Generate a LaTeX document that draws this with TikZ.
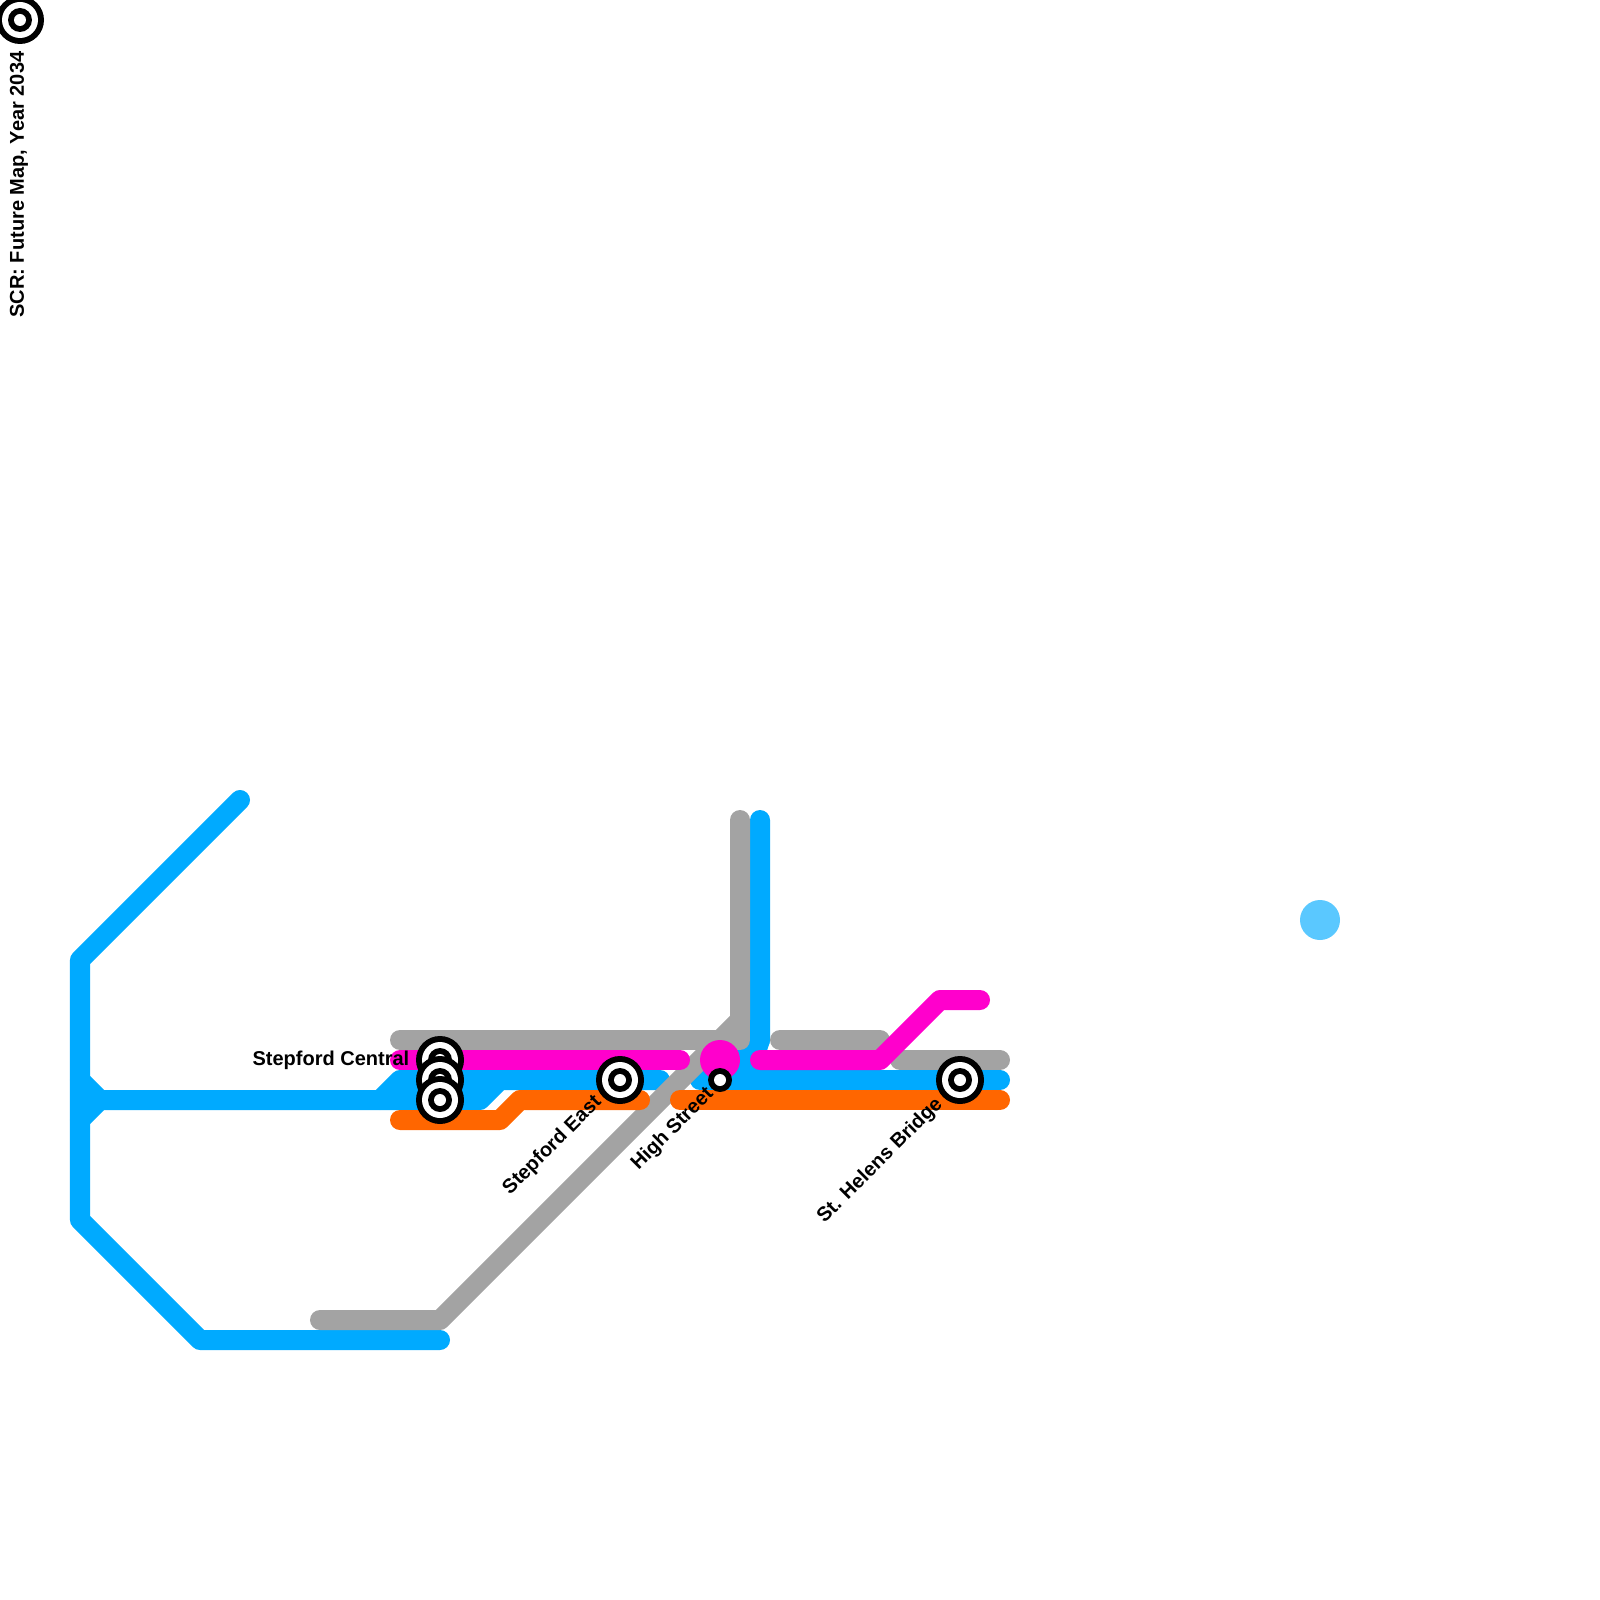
\documentclass[tikz,border=0pt]{standalone}
\usepackage{fontspec}
\setmainfont{Liberation Sans}
\definecolor{lineblue}{HTML}{00AAFF}
\definecolor{linegrey}{HTML}{A3A3A3}
\definecolor{linepink}{HTML}{FF00CC}
\definecolor{lineorange}{HTML}{FF6600}
\definecolor{lightblue}{HTML}{5AC8FF}
\tikzset{
  route/.style={line width=5.69pt, line cap=round, line join=round},
  stnlabel/.style={font=\fontsize{5.69pt}{6.5pt}\bfseries\selectfont, inner sep=0pt},
}
\newcommand{\bigstation}[1]{
  \fill[black] (#1) circle (24);
  \fill[white] (#1) circle (18);
  \fill[black] (#1) circle (12);
  \fill[white] (#1) circle (6);
}
\begin{document}
\begin{tikzpicture}[x=0.01cm,y=-0.01cm]
\useasboundingbox (0,0) rectangle (1600,1600);
% blue
\draw[route, lineblue] (240,800) -- (80,960) -- (80,1220) -- (200,1340) -- (440,1340);
\draw[route, lineblue] (80,1080) -- (100,1100) -- (480,1100) -- (500,1080) -- (660,1080);
\draw[route, lineblue] (80,1120) -- (100,1100);
\draw[route, lineblue] (380,1100) -- (400,1080) -- (500,1080);
\draw[route, lineblue] (760,820) -- (760,1040) -- (720,1080);
\draw[route, lineblue] (760,1040) -- (750,1070);
\draw[route, lineblue] (700,1080) -- (1000,1080);
% grey
\draw[route, linegrey] (320,1320) -- (440,1320) -- (740,1020) -- (740,820);
\draw[route, linegrey] (400,1040) -- (740,1040) -- (740,1020);
\draw[route, linegrey] (780,1040) -- (880,1040);
\draw[route, linegrey] (900,1060) -- (1000,1060);
% pink
\draw[route, linepink] (400,1060) -- (680,1060);
\draw[route, linepink] (760,1060) -- (880,1060) -- (940,1000) -- (980,1000);
\fill[linepink] (720,1060) circle (20);
% orange
\draw[route, lineorange] (400,1120) -- (500,1120) -- (520,1100) -- (640,1100);
\draw[route, lineorange] (680,1100) -- (1000,1100);
\fill[lightblue] (1320,920) circle (20);
% stations
\bigstation{20,20}
\bigstation{440,1060}
\bigstation{440,1080}
\bigstation{440,1100}
\bigstation{620,1080}
\bigstation{960,1080}
\fill[black] (720,1080) circle (12);
\fill[white] (720,1080) circle (6);
% labels
\node[stnlabel, anchor=east] (central) at (410,1060) {Stepford Central};
\node[stnlabel, anchor=east, rotate=45] (east) at (599,1099) {Stepford East};
\node[stnlabel, anchor=east, rotate=45] (high) at (711,1091) {High Street};
\node[stnlabel, anchor=east, rotate=45] (helens) at (940,1101) {St. Helens Bridge};
\node[stnlabel, anchor=east, rotate=90] (title) at (19,51) {SCR: Future Map, Year 2034};
\end{tikzpicture}
\end{document}
